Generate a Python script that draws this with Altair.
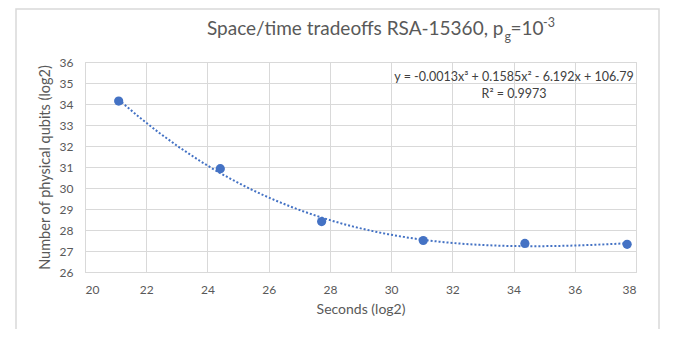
import altair as alt
import pandas as pd

# Data
seconds_log2 = [21.10, 24.42, 27.73, 31.05, 34.37, 37.71]
qubits_log2 = [34.14, 30.92, 28.40, 27.50, 27.36, 27.32]

title_main = "Space/time tradeoffs RSA-15360, p"
title_sub = "g"
title_mid = "=10"
title_sup = "-3"
eq_text = "y = -0.0013x\u00b3 + 0.1585x\u00b2 - 6.192x + 106.79"
r2_text = "R\u00b2 = 0.9973"

x_ticks = list(range(20, 39, 2))
y_ticks = list(range(26, 37, 1))

df = pd.DataFrame({"x": seconds_log2, "y": qubits_log2})

BLUE = "#4472C4"
GRAY = "#595959"
GRID = "#d9d9d9"
FONT = "Lato"

xs = alt.Scale(domain=[20, 38], nice=False, zero=False)
ys = alt.Scale(domain=[26, 36], nice=False, zero=False)
x_axis = alt.Axis(values=x_ticks, title="Seconds (log2)", labelOverlap=False)
y_axis = alt.Axis(values=y_ticks, title="Number of physical qubits (log2)", labelOverlap=False)

base = alt.Chart(df)

points = base.mark_circle(size=85, color=BLUE, opacity=1).encode(
    x=alt.X("x:Q", scale=xs, axis=x_axis),
    y=alt.Y("y:Q", scale=ys, axis=y_axis),
)

trend = base.transform_regression("x", "y", method="poly", order=3).mark_line(
    color=BLUE, strokeDash=[2, 2], strokeWidth=2
).encode(x=alt.X("x:Q", scale=xs, axis=x_axis), y=alt.Y("y:Q", scale=ys, axis=y_axis))

one = alt.Data(values=[{"a": 1}])


def txt(t, x, y, size, align="left", color=GRAY, baseline="alphabetic"):
    return alt.Chart(one).mark_text(
        text=t, align=align, baseline=baseline, font=FONT, fontSize=size, color=color
    ).encode(x=alt.value(x), y=alt.value(y))


title_layers = [
    txt(title_main, 418.5, -27, 19, align="right"),
    txt(title_sub, 419.5, -21, 12.5),
    txt(title_mid, 425.5, -27, 19),
    txt(title_sup, 458, -35, 12.5),
]

eq = txt(eq_text, 429, 15, 12.5, align="center", color="#404040", baseline="middle")
r2 = txt(r2_text, 429, 31.5, 12.5, align="center", color="#404040", baseline="middle")

frame = alt.Chart(one).mark_rect(filled=False, stroke=GRID, strokeWidth=1.5).encode(
    x=alt.value(-69), x2=alt.value(574), y=alt.value(-53), y2=alt.value(300)
)

chart = alt.layer(frame, trend, points, eq, r2, *title_layers).properties(
    width=551,
    height=210,
    autosize=alt.AutoSizeParams(type="none"),
    padding={"left": 77, "top": 54, "right": 32, "bottom": 57},
    background="white",
).configure_view(stroke=GRID, strokeWidth=1).configure_axis(
    domainColor=GRID,
    gridColor=GRID,
    gridWidth=1,
    ticks=False,
    labelColor=GRAY,
    labelFont=FONT,
    labelFontSize=12,
    titleColor=GRAY,
    titleFont=FONT,
    titleFontWeight="normal",
).configure_axisX(labelPadding=12, titlePadding=7, titleFontSize=14).configure_axisY(
    labelPadding=12, titlePadding=7, titleFontSize=14.5
)

chart.save("out.html", embed_options={"renderer": "svg", "actions": False})
